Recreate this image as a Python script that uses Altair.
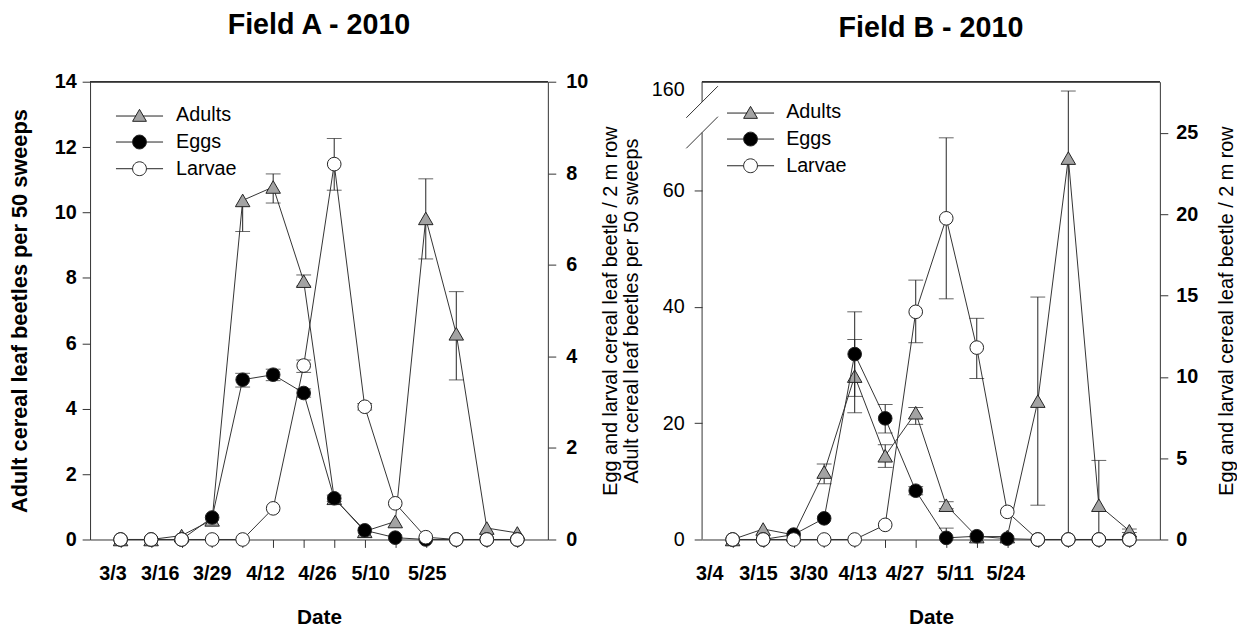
import altair as alt
import pandas as pd

FONT = "Liberation Sans"
W, H = 463, 463
INK = "#222222"
SERIES = ["Adults", "Eggs", "Larvae"]
sample_idx = list(range(14))

# ---------------- Field A - 2010 ----------------
A_label_txt = ["3/3", "3/16", "3/29", "4/12", "4/26", "5/10", "5/25"]
A_label_pos = [-0.25, 1.3, 3.0, 4.75, 6.45, 8.2, 10.05]
A_adults = [0, 0, 0.12, 0.6, 10.37, 10.78, 7.9, 1.26, 0.25, 0.55, 9.82, 6.29, 0.35, 0.2]
A_adults_lo = [None, None, None, None, 9.42, 10.29, 7.75, None, None, None, 8.58, 4.88, None, None]
A_adults_hi = [None, None, None, None, 10.37, 11.18, 8.09, None, None, None, 11.03, 7.58, None, None]
A_eggs = [0, 0, 0, 0.48, 3.49, 3.60, 3.20, 0.90, 0.20, 0.04, 0, 0, 0, 0]
A_eggs_lo = [None, None, None, None, 3.33, 3.47, 3.11, 0.83, None, None, None, None, None, None]
A_eggs_hi = [None, None, None, None, 3.63, 3.72, 3.29, 0.97, None, None, None, None, None, None]
A_larvae = [0, 0, 0, 0, 0, 0.68, 3.80, 8.20, 2.90, 0.79, 0.05, 0, 0, 0]
A_larvae_lo = [None, None, None, None, None, None, 3.65, 7.63, 2.83, None, None, None, None, None]
A_larvae_hi = [None, None, None, None, None, None, 3.92, 8.76, 2.97, None, None, None, None, None]

# ---------------- Field B - 2010 ----------------
B_label_txt = ["3/4", "3/15", "3/30", "4/13", "4/27", "5/11", "5/24"]
B_label_pos = [-0.75, 0.85, 2.5, 4.1, 5.65, 7.3, 8.95]
B_adults = [0, 1.8, 0.8, 11.6, 28.1, 14.4, 21.8, 5.9, 0.5, 0.5, 23.8, 65.6, 5.9, 1.5]
B_adults_lo = [None, None, None, 9.6, 21.8, 12.4, 19.8, 5.3, None, None, 5.9, 0, 0, 1.2]
B_adults_hi = [None, None, None, 13.0, 34.4, 16.3, 22.7, 6.5, None, None, 41.7, 158, 13.6, 1.8]
B_eggs = [0, 0, 0.3, 1.3, 11.4, 7.45, 3.0, 0.1, 0.2, 0.05, 0, 0, 0, 0]
B_eggs_lo = [None, None, None, None, 8.8, 6.55, 2.75, 0, None, None, None, None, None, None]
B_eggs_hi = [None, None, None, None, 14.0, 8.3, 3.25, 0.7, None, None, None, None, None, None]
B_larvae = [0, 0, 0, 0, 0, 0.9, 14.0, 19.75, 11.8, 1.7, 0, 0, 0, 0]
B_larvae_lo = [None, None, None, None, None, None, 12.1, 14.8, 9.9, None, None, None, None, None]
B_larvae_hi = [None, None, None, None, None, None, 15.95, 24.7, 13.6, None, None, None, None, None]

# broken left axis of Field B (scale parameters)
B_break_lo, B_break_hi, B_top = 70, 140, 173.3

STYLE = {
    "Adults": dict(shape="triangle-up", fill="#a3a3a3", size=215),
    "Eggs": dict(shape="circle", fill="black", size=190),
    "Larvae": dict(shape="circle", fill="white", size=190),
}
LEGEND_PATHS = [
    "M-3.4,0.1L-0.5,0.1M0.5,0.1L3.4,0.1M0,-0.866L1,0.866L-1,0.866Z",
    "M-3.4,0L-1,0M1,0L3.4,0M-1,0A1,1,0,1,0,1,0A1,1,0,1,0,-1,0Z",
    "M-3.4,0L-1,0M1,0L3.4,0M-1,0A1,1,0,1,0,1,0A1,1,0,1,0,-1,0Z",
]
LEGEND_FILLS = ["#a3a3a3", "black", "white"]


def build(values, lo, hi, name):
    pts = pd.DataFrame({"idx": sample_idx, "value": values, "series": name})
    err_rows, cap_rows = [], []
    for i, (v, l, h) in enumerate(zip(values, lo, hi)):
        if l is None:
            continue
        err_rows.append({"idx": i, "lo": l, "hi": h})
        if 0 < l < v:
            cap_rows.append({"idx": i, "cap": l})
        if h > v:
            cap_rows.append({"idx": i, "cap": h})
    return pts, pd.DataFrame(err_rows, columns=["idx", "lo", "hi"]), pd.DataFrame(cap_rows, columns=["idx", "cap"])


def xdef(field):
    return alt.X(
        field,
        scale=alt.Scale(domain=[-1, 14], nice=False, zero=False),
        axis=alt.Axis(values=sample_idx, labels=False, tickSize=8, grid=False, title="Date",
                      titleFontSize=21, titleFontWeight="bold", titlePadding=59),
    )


def series_layers(values, lo, hi, name, scale, axis):
    pts, err, caps = build(values, lo, hi, name)
    st = STYLE[name]
    layers = {}
    layers["line"] = alt.Chart(pts).mark_line(color="#333333", strokeWidth=1).encode(
        x=xdef("idx:Q"), y=alt.Y("value:Q", scale=scale, axis=axis))
    errl = []
    if len(err):
        errl.append(alt.Chart(err).mark_rule(color=INK, strokeWidth=1).encode(
            x=xdef("idx:Q"), y=alt.Y("lo:Q", scale=scale, axis=axis), y2="hi:Q"))
    if len(caps):
        errl.append(alt.Chart(caps).mark_tick(orient="horizontal", size=15, thickness=1, color=INK).encode(
            x=xdef("idx:Q"), y=alt.Y("cap:Q", scale=scale, axis=axis)))
    layers["err"] = errl
    layers["pts"] = alt.Chart(pts).mark_point(
        shape=st["shape"], filled=True, fill=st["fill"], stroke=INK, strokeWidth=1,
        size=st["size"], opacity=1).encode(x=xdef("idx:Q"), y=alt.Y("value:Q", scale=scale, axis=axis))
    return layers


def panel(title, label_txt, label_pos, adults, eggs, larvae, lscale, laxis, rscale, raxis,
          legend_xy, label_offset, title_offset, broken=False):
    la = series_layers(*adults, "Adults", lscale, laxis)
    le = series_layers(*eggs, "Eggs", rscale, raxis)
    ll = series_layers(*larvae, "Larvae", rscale, raxis)

    labels_df = pd.DataFrame({"pos": label_pos, "label": label_txt})
    xlabels = alt.Chart(labels_df).mark_text(
        font=FONT, fontSize=20, fontWeight="bold", baseline="middle", align="center", color="black"
    ).encode(x=xdef("pos:Q"), y=alt.value(H + 35), text="label:N")
    top = alt.Chart(labels_df).mark_rule(color="#333333", strokeWidth=1).encode(
        x=alt.value(0), x2=alt.value(W), y=alt.value(0))

    left_layers = [la["line"], *la["err"], la["pts"], xlabels, top]
    if broken:
        seg = pd.DataFrame({"y0": [0, B_break_hi], "y1": [B_break_lo, B_top]})
        brk = pd.DataFrame({"b": [B_break_lo, B_break_hi]})
        left_layers.append(alt.Chart(seg).mark_rule(color="#333333", strokeWidth=1).encode(
            x=alt.value(0), y=alt.Y("y0:Q", scale=lscale, axis=laxis), y2="y1:Q"))
        left_layers.append(alt.Chart(brk).mark_rule(color="#333333", strokeWidth=1, yOffset=16, y2Offset=-16).encode(
            x=alt.value(-16), x2=alt.value(16), y=alt.Y("b:Q", scale=lscale, axis=laxis), y2="b:Q"))
    left = alt.layer(*left_layers)

    leg = alt.Legend(orient="none", legendX=legend_xy[0], legendY=legend_xy[1], title=None,
                     labelFont=FONT, labelFontSize=20, labelColor="black", symbolSize=196,
                     symbolStrokeWidth=1, labelOffset=label_offset, rowPadding=7, padding=0)
    all_pts = pd.DataFrame({"idx": sample_idx * 3, "value": 0,
                            "series": sum([[s] * 14 for s in SERIES], [])})
    dummy = alt.Chart(all_pts).transform_filter("false").mark_point(
        filled=False, opacity=1, stroke=INK, strokeWidth=1).encode(
        x=xdef("idx:Q"), y=alt.Y("value:Q", scale=rscale, axis=raxis),
        shape=alt.Shape("series:N", scale=alt.Scale(domain=SERIES, range=LEGEND_PATHS), legend=leg),
        fill=alt.Fill("series:N", scale=alt.Scale(domain=SERIES, range=LEGEND_FILLS), legend=leg),
    )
    right = alt.layer(le["line"], ll["line"], *le["err"], *ll["err"], le["pts"], ll["pts"], dummy)

    return alt.layer(left, right).resolve_scale(y="independent").properties(
        width=W, height=H,
        title=alt.TitleParams(title, font=FONT, fontSize=29, fontWeight="bold", color="black",
                              anchor="middle", offset=title_offset))


def yaxis(orient, values, title, bold_labels, bold_title, title_pad, label_pad, domain=True,
          title_size=20, hide_tick_above=None):
    kw = {}
    if orient == "right":
        kw["titleAngle"] = 270
        kw["titleBaseline"] = "top"
    if hide_tick_above is not None:
        kw["tickOpacity"] = {"condition": {"test": f"datum.value > {hide_tick_above}", "value": 0}, "value": 1}
    return alt.Axis(orient=orient, values=values, title=title, grid=False, tickSize=8,
                    labelFontSize=20, labelFontWeight="bold" if bold_labels else "normal",
                    titleFontSize=title_size, titleFontWeight="bold" if bold_title else "normal",
                    titlePadding=title_pad, domain=domain, labelPadding=label_pad, **kw)


A = panel(
    "Field A - 2010", A_label_txt, A_label_pos,
    (A_adults, A_adults_lo, A_adults_hi), (A_eggs, A_eggs_lo, A_eggs_hi), (A_larvae, A_larvae_lo, A_larvae_hi),
    alt.Scale(domain=[0, 14], nice=False, zero=False),
    yaxis("left", [0, 2, 4, 6, 8, 10, 12, 14], "Adult cereal leaf beetles per 50 sweeps", True, True, 23, 6,
          title_size=22),
    alt.Scale(domain=[0, 10], nice=False, zero=False),
    yaxis("right", [0, 2, 4, 6, 8, 10], "Egg and larval cereal leaf beetle / 2 m row", True, False, 13, 10),
    (40, 24), 27, 32,
)
B = panel(
    "Field B - 2010", B_label_txt, B_label_pos,
    (B_adults, B_adults_lo, B_adults_hi), (B_eggs, B_eggs_lo, B_eggs_hi), (B_larvae, B_larvae_lo, B_larvae_hi),
    alt.Scale(domain=[0, B_break_lo, B_break_hi, B_top], range=[H, H - 70 * H / 78.74, 20.5, 0], nice=False, zero=False),
    yaxis("left", [0, 20, 40, 60, 160], "Adult cereal leaf beetles per 50 sweeps", False, False, 10, 10,
          domain=False, hide_tick_above=B_break_hi),
    alt.Scale(domain=[0, 28.15], nice=False, zero=False),
    yaxis("right", [0, 5, 10, 15, 20, 25], "Egg and larval cereal leaf beetle / 2 m row", True, False, 19, 8),
    (39, 21), 26, 37,
    broken=True,
)

chart = alt.hconcat(A, B, spacing=0).resolve_scale(
    shape="independent", fill="independent").resolve_legend(shape="independent", fill="independent").properties(
    padding={"left": 0, "top": 0, "right": 0, "bottom": 0}
).configure_view(stroke=None).configure_axis(
    labelFont=FONT, titleFont=FONT, labelColor="black", titleColor="black",
    domainColor="#333333", tickColor="#333333",
).configure_text(font=FONT)

chart.save("out.html", embed_options={"renderer": "svg", "actions": False})
